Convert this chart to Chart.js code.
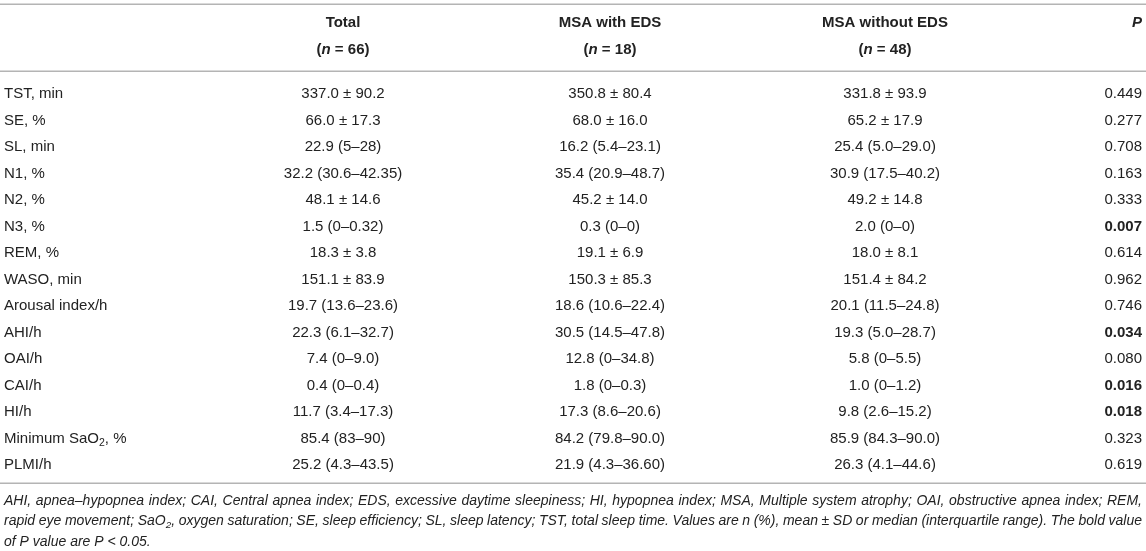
<!DOCTYPE html>
<html>
<head>
<meta charset="utf-8">
<script src="https://cdn.jsdelivr.net/npm/chart.js@4/dist/chart.umd.min.js"></script>
<style>
  html, body { margin: 0; padding: 0; background: #fff; }
  canvas { display: block; }
</style>
</head>
<body>
<canvas id="tableChart" width="1146" height="551"></canvas>
<script>
// row labels and the values for each group
const rowLabels = ['TST, min', 'SE, %', 'SL, min', 'N1, %', 'N2, %', 'N3, %', 'REM, %', 'WASO, min',
  'Arousal index/h', 'AHI/h', 'OAI/h', 'CAI/h', 'HI/h', 'Minimum SaO<sub>2</sub>, %', 'PLMI/h']
const totalVals = ['337.0 ± 90.2', '66.0 ± 17.3', '22.9 (5–28)', '32.2 (30.6–42.35)', '48.1 ± 14.6',
  '1.5 (0–0.32)', '18.3 ± 3.8', '151.1 ± 83.9', '19.7 (13.6–23.6)', '22.3 (6.1–32.7)', '7.4 (0–9.0)',
  '0.4 (0–0.4)', '11.7 (3.4–17.3)', '85.4 (83–90)', '25.2 (4.3–43.5)']
const withEdsVals = ['350.8 ± 80.4', '68.0 ± 16.0', '16.2 (5.4–23.1)', '35.4 (20.9–48.7)', '45.2 ± 14.0',
  '0.3 (0–0)', '19.1 ± 6.9', '150.3 ± 85.3', '18.6 (10.6–22.4)', '30.5 (14.5–47.8)', '12.8 (0–34.8)',
  '1.8 (0–0.3)', '17.3 (8.6–20.6)', '84.2 (79.8–90.0)', '21.9 (4.3–36.60)']
const withoutEdsVals = ['331.8 ± 93.9', '65.2 ± 17.9', '25.4 (5.0–29.0)', '30.9 (17.5–40.2)', '49.2 ± 14.8',
  '2.0 (0–0)', '18.0 ± 8.1', '151.4 ± 84.2', '20.1 (11.5–24.8)', '19.3 (5.0–28.7)', '5.8 (0–5.5)',
  '1.0 (0–1.2)', '9.8 (2.6–15.2)', '85.9 (84.3–90.0)', '26.3 (4.1–44.6)']
const pVals = ['0.449', '0.277', '0.708', '0.163', '0.333', '0.007', '0.614', '0.962', '0.746', '0.034',
  '0.080', '0.016', '0.018', '0.323', '0.619']

const headTitles = ['', 'Total', 'MSA with EDS', 'MSA without EDS', '<i>P</i>']
const headN = ['', '(<i>n</i> = 66)', '(<i>n</i> = 18)', '(<i>n</i> = 48)', '']
const footLines = [
  'AHI, apnea–hypopnea index; CAI, Central apnea index; EDS, excessive daytime sleepiness; HI, hypopnea index; MSA, Multiple system atrophy; OAI, obstructive apnea index; REM,',
  'rapid eye movement; SaO<sub>2</sub>, oxygen saturation; SE, sleep efficiency; SL, sleep latency; TST, total sleep time. Values are n (%), mean ± SD or median (interquartile range). The bold value',
  'of P value are P < 0.05.'
]

// layout: column anchors on x, special rows on y (in row units)
const colX = [4, 343, 610, 885, 1142]
const colAlign = ['left', 'center', 'center', 'center', 'right']
const headY = [-2.68, -1.66]
const ruleY = [-3.40, -0.87, 14.68]
const footY = [15.36, 16.11, 16.91]
const FONT = '"Liberation Sans", Arial, Helvetica, sans-serif'
const INK = '#222'

function parseRich(s) {
  const out = []
  const re = /<(i|sub)>(.*?)<\/\1>/g
  let last = 0, m
  while ((m = re.exec(s))) {
    if (m.index > last) out.push({t: s.slice(last, m.index)})
    out.push({t: m[2], [m[1]]: true})
    last = re.lastIndex
  }
  if (last < s.length) out.push({t: s.slice(last)})
  return out
}

function segFont(seg, base) {
  const size = seg.sub ? base.size * 0.7 : base.size
  const it = (base.italic || seg.i) ? 'italic ' : ''
  return `${it}${base.bold ? 'bold ' : ''}${size}px ${FONT}`
}

function richWidth(ctx, segs, base) {
  let w = 0
  segs.forEach(s => { ctx.font = segFont(s, base); w += ctx.measureText(s.t).width })
  return w
}

function drawRich(ctx, str, x, y, align, base) {
  const segs = parseRich(str)
  const w = richWidth(ctx, segs, base)
  let cx = align === 'center' ? x - w / 2 : align === 'right' ? x - w : x
  ctx.textAlign = 'left'
  ctx.textBaseline = 'middle'
  segs.forEach(s => {
    ctx.font = segFont(s, base)
    ctx.fillText(s.t, cx, s.sub ? y + base.size * 0.28 : y)
    cx += ctx.measureText(s.t).width
  })
}

function drawJustified(ctx, str, left, right, y, base) {
  const words = str.split(' ')
  const widths = words.map(wd => richWidth(ctx, parseRich(wd), base))
  const sum = widths.reduce((a, b) => a + b, 0)
  const gap = (right - left - sum) / (words.length - 1)
  let cx = left
  words.forEach((wd, i) => {
    drawRich(ctx, wd, cx, y, 'left', base)
    cx += widths[i] + gap
  })
}

const columns = [rowLabels, totalVals, withEdsVals, withoutEdsVals, pVals]

const tablePlugin = {
  id: 'tablePlugin',
  afterDatasetsDraw(chart) {
    const {ctx, scales: {x, y}} = chart
    ctx.save()
    ctx.fillStyle = INK
    // rules
    ctx.strokeStyle = '#b4b4b4'
    ctx.lineWidth = 1.5
    ruleY.forEach(v => {
      const py = Math.round(y.getPixelForValue(v)) + 0.25
      ctx.beginPath()
      ctx.moveTo(x.left, py)
      ctx.lineTo(x.right, py)
      ctx.stroke()
    })
    // header
    headTitles.forEach((t, c) => {
      if (t) drawRich(ctx, t, x.getPixelForValue(colX[c]), y.getPixelForValue(headY[0]), colAlign[c], {size: 15, bold: true})
      if (headN[c]) drawRich(ctx, headN[c], x.getPixelForValue(colX[c]), y.getPixelForValue(headY[1]), colAlign[c], {size: 15, bold: true})
    })
    // cells, placed on the dataset points
    chart.data.datasets.forEach((ds, c) => {
      const meta = chart.getDatasetMeta(c)
      meta.data.forEach((pt, r) => {
        const txt = columns[c][r]
        const bold = c === 4 && parseFloat(txt) < 0.05
        drawRich(ctx, txt, pt.x, pt.y, colAlign[c], {size: 15, bold: bold})
      })
    })
    // footnote
    const fbase = {size: 14, italic: true}
    footLines.forEach((line, i) => {
      const py = y.getPixelForValue(footY[i])
      if (i < footLines.length - 1) drawJustified(ctx, line, x.getPixelForValue(colX[0]), x.getPixelForValue(colX[4]), py, fbase)
      else drawRich(ctx, line, x.getPixelForValue(colX[0]), py, 'left', fbase)
    })
    ctx.restore()
  }
}

const config = {
  type: 'scatter',
  data: {
    datasets: columns.map((col, c) => ({
      label: headTitles[c] || 'label',
      data: col.map((_, r) => ({x: colX[c], y: r})),
      pointRadius: 0,
      pointHoverRadius: 0
    }))
  },
  options: {
    responsive: false,
    animation: false,
    events: [],
    layout: {padding: 0},
    scales: {
      x: {type: 'linear', min: 0, max: 1146, display: false},
      y: {type: 'linear', min: -3.547, max: 17.245, reverse: true, display: false}
    },
    plugins: {legend: {display: false}, tooltip: {enabled: false}}
  },
  plugins: [tablePlugin]
}

const tableChart = new Chart(document.getElementById('tableChart'), config)
</script>
</body>
</html>
